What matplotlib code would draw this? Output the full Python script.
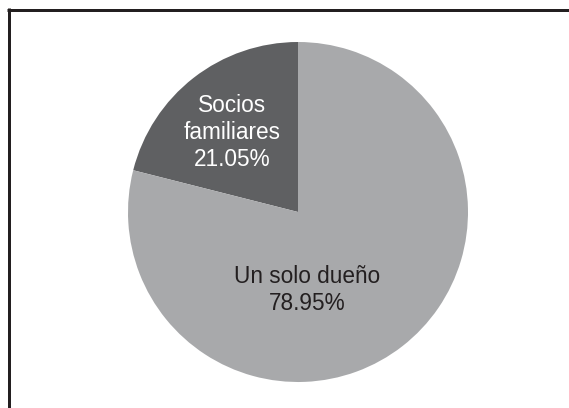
import matplotlib
matplotlib.use("Agg")
import matplotlib.pyplot as plt
from matplotlib.lines import Line2D

# Ownership structure shares (%)
categories = ["Socios\nfamiliares", "Un solo dueño"]
shares = [21.05, 78.95]
colors = ["#5f6062", "#a8a9ab"]
text_colors = ["white", "#231f20"]

W, H, DPI = 569, 408, 100
fig = plt.figure(figsize=(W / DPI, H / DPI), dpi=DPI)
fig.patch.set_facecolor("white")

# Square axes holding the pie (pixel geometry of the figure)
cx, cy, r = 298, 212, 170
ax = fig.add_axes([(cx - r) / W, (H - cy - r) / H, 2 * r / W, 2 * r / H])

ax.pie(shares, colors=colors, startangle=90, counterclock=True,
       wedgeprops=dict(linewidth=0), radius=1.0)
ax.set_xlim(-1, 1)
ax.set_ylim(-1, 1)
ax.set_aspect("equal")
ax.axis("off")

# Label positions inside each wedge (in pie radius units)
label_pos = [(-0.388, 0.47), (0.053, -0.46)]
for cat, val, (lx, ly), tc in zip(categories, shares, label_pos, text_colors):
    ax.text(lx, ly, f"{cat}\n{val:.2f}%", ha="center", va="center",
            color=tc, fontsize=16.3, family="Liberation Sans",
            linespacing=1.22)

# Frame lines along the top and left edges
lw = 3 * 72 / DPI
fig.add_artist(Line2D([7 / W, 1.0], [1 - 9.5 / H, 1 - 9.5 / H],
                      transform=fig.transFigure, color="#231f20",
                      linewidth=lw, solid_capstyle="butt"))
fig.add_artist(Line2D([8.5 / W, 8.5 / W], [0.0, 1 - 8 / H],
                      transform=fig.transFigure, color="#231f20",
                      linewidth=lw, solid_capstyle="butt"))

fig.savefig("out.png", dpi=DPI, facecolor="white")
